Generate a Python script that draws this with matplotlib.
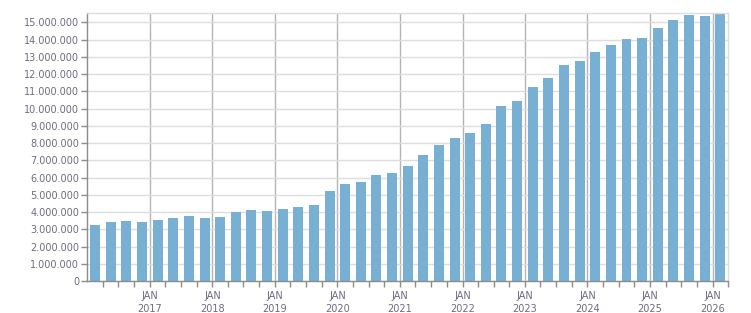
import pandas
import matplotlib

matplotlib.use("Agg")
import matplotlib.pyplot as plt
import matplotlib.dates as mdates
from matplotlib.ticker import FuncFormatter, MultipleLocator, FixedLocator

# quarterly values, Q1 2016 .. Q1 2026
quarters = pandas.period_range("2016Q1", "2026Q1", freq="Q")
values = [
    3250000, 3440000, 3500000, 3430000,
    3560000, 3670000, 3790000, 3670000,
    3710000, 4020000, 4130000, 4060000,
    4180000, 4290000, 4410000, 5220000,
    5630000, 5740000, 6150000, 6260000,
    6670000, 7310000, 7890000, 8290000,
    8580000, 9110000, 10150000, 10440000,
    11250000, 11770000, 12530000, 12760000,
    13280000, 13690000, 14040000, 14100000,
    14670000, 15140000, 15430000, 15370000,
    15490000,
]
label_years = list(range(2017, 2027))

BAR_COLOR = "#77b0d3"
TEXT_COLOR = "#6f6a80"


def quarter_centres(periods):
    starts = periods.start_time
    ends = periods.end_time
    return starts + (ends - starts) / 2


def thousands(x, pos):
    return f"{int(round(x)):,}".replace(",", ".")


def year_label(x, pos):
    d = mdates.num2date(x)
    return f"JAN\n{d.year}"


fig = plt.figure(figsize=(7.51, 3.13), dpi=100)
ax = fig.add_axes([0.1163, 0.1022, 0.9694 - 0.1163, 0.9585 - 0.1022])

centres = quarter_centres(quarters)
ax.bar(centres, values, width=58, color=BAR_COLOR, zorder=2)

ax.set_xlim(pandas.Timestamp("2016-01-01"), pandas.Timestamp("2026-04-01"))
ax.set_ylim(0, 15550000)

ax.yaxis.set_major_locator(MultipleLocator(1000000))
ax.yaxis.set_major_formatter(FuncFormatter(thousands))
year_ticks = [mdates.date2num(pandas.Timestamp(f"{y}-01-01")) for y in label_years]
ax.xaxis.set_major_locator(FixedLocator(year_ticks))
ax.xaxis.set_minor_locator(mdates.MonthLocator(bymonth=[4, 7, 10]))
ax.xaxis.set_major_formatter(FuncFormatter(year_label))

ax.grid(axis="y", color="#dddddd", linewidth=1, zorder=0)
ax.grid(axis="x", which="major", color="#b4b4b4", linewidth=1, zorder=1)
ax.set_axisbelow(True)

for side in ["left", "bottom"]:
    ax.spines[side].set_color("#8c8c8c")
    ax.spines[side].set_linewidth(1)
for side in ["top", "right"]:
    ax.spines[side].set_color("#dddddd")
    ax.spines[side].set_linewidth(1)

ax.tick_params(axis="y", length=4, width=1, color="#8c8c8c", pad=2,
               labelsize=7, labelcolor=TEXT_COLOR)
ax.tick_params(axis="x", which="major", length=4, width=1, color="#8c8c8c",
               pad=3, labelsize=7, labelcolor=TEXT_COLOR)
ax.tick_params(axis="x", which="minor", length=4, width=1, color="#8c8c8c")
for label in ax.get_xticklabels():
    label.set_linespacing(1.35)

fig.savefig("out.png", dpi=100)
